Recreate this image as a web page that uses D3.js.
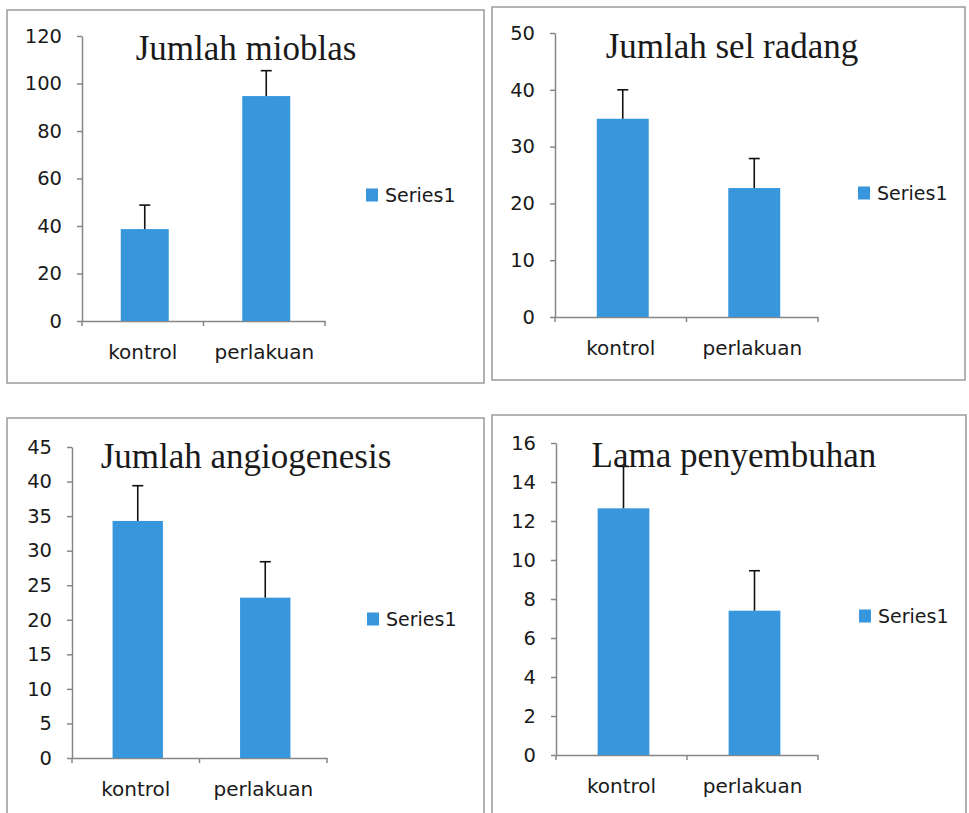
<!DOCTYPE html>
<html lang="en">
<head>
  <meta charset="UTF-8">
  <title>Four bar charts</title>
  <script src="https://d3js.org/d3.v7.min.js"></script>
  <style>
    body { margin: 0; background: #fff; }
    .frame { fill: #fff; stroke: #9a9a9a; stroke-width: 1.5; }
    .bar { fill: #3796dc; }
    .err { stroke: #111; stroke-width: 1.6; fill: none; }
    .axis path, .axis line { stroke: #868686; stroke-width: 1.5; }
    .axis text { font-family: "DejaVu Sans", sans-serif; fill: #1a1a1a; }
    .title { font-family: "Liberation Serif", "Times New Roman", serif; font-size: 35px; fill: #1a1a1a; }
    .legend { font-family: "DejaVu Sans", sans-serif; font-size: 19px; fill: #1a1a1a; }
  </style>
</head>
<body>
  <svg width="969" height="813"></svg>

  <script>
    // Data
    const categories = ["kontrol", "perlakuan"];
    const seriesName = "Series1";
    const titles = ["Jumlah mioblas", "Jumlah sel radang", "Jumlah angiogenesis", "Lama penyembuhan"];

    const mioblasMean = [38.7, 94.7];
    const mioblasErr = [10.1, 10.7];
    const radangMean = [34.9, 22.7];
    const radangErr = [5.1, 5.2];
    const angioMean = [34.3, 23.2];
    const angioErr = [5.1, 5.2];
    const lamaMean = [12.65, 7.4];
    const lamaErr = [2.15, 2.05];

    const mioblasTicks = [0, 20, 40, 60, 80, 100, 120];
    const radangTicks = [0, 10, 20, 30, 40, 50];
    const angioTicks = [0, 5, 10, 15, 20, 25, 30, 35, 40, 45];
    const lamaTicks = [0, 2, 4, 6, 8, 10, 12, 14, 16];

    const panels = [
      { title: titles[0], mean: mioblasMean, err: mioblasErr, ticks: mioblasTicks },
      { title: titles[1], mean: radangMean, err: radangErr, ticks: radangTicks },
      { title: titles[2], mean: angioMean, err: angioErr, ticks: angioTicks },
      { title: titles[3], mean: lamaMean, err: lamaErr, ticks: lamaTicks }
    ];

    // Layout of each panel (frame, plot area, title, legend)
    const layout = [
      { fx: 7, fy: 10, fw: 477, fh: 373, x0: 82, x1: 325, y0: 321, y1: 36, tx: 246, ty: 60, lx: 366, ly: 195 },
      { fx: 492, fy: 7, fw: 473, fh: 373, x0: 555, x1: 818, y0: 317, y1: 33, tx: 732, ty: 58, lx: 858, ly: 193 },
      { fx: 7, fy: 418, fw: 477, fh: 420, x0: 72, x1: 327, y0: 758, y1: 447, tx: 246, ty: 468, lx: 367, ly: 619 },
      { fx: 492, fy: 415, fw: 474, fh: 420, x0: 556, x1: 818, y0: 755, y1: 443, tx: 734, ty: 467, lx: 859, ly: 616 }
    ];

    const svg = d3.select("svg");

    panels.forEach((p, i) => {
      const L = layout[i];
      const g = svg.append("g");

      // Frame
      g.append("rect")
        .attr("class", "frame")
        .attr("x", L.fx).attr("y", L.fy)
        .attr("width", L.fw).attr("height", L.fh);

      // Scales
      const x = d3.scaleBand()
        .domain(categories)
        .range([L.x0, L.x1]);

      const y = d3.scaleLinear()
        .domain([0, d3.max(p.ticks)])
        .range([L.y0, L.y1]);

      // Y axis
      const yAxis = g.append("g")
        .attr("class", "axis")
        .attr("transform", `translate(${L.x0},0)`)
        .call(d3.axisLeft(y).tickValues(p.ticks).tickSize(5).tickPadding(15).tickSizeOuter(0));
      yAxis.selectAll("text").style("font-size", "19.5px");
      // small extension of the y axis below the x axis
      yAxis.append("line")
        .attr("x1", 0).attr("x2", 0)
        .attr("y1", L.y0).attr("y2", L.y0 + 5);

      // X axis (labels at band centers)
      const xAxis = g.append("g")
        .attr("class", "axis")
        .attr("transform", `translate(0,${L.y0})`)
        .call(d3.axisBottom(x).tickSize(0).tickPadding(24).tickSizeOuter(0));
      xAxis.selectAll("text").style("font-size", "20px");

      // Tick marks at category boundaries
      const bounds = categories.map(c => x(c)).concat([x(categories[categories.length - 1]) + x.bandwidth()]);
      xAxis.selectAll(".bound")
        .data(bounds.slice(1))
        .join("line")
        .attr("class", "bound")
        .attr("x1", d => d).attr("x2", d => d)
        .attr("y1", 0).attr("y2", 5);

      // Bars
      const bw = x.bandwidth() * 0.395;
      const rows = categories.map((c, k) => ({ c, v: p.mean[k], e: p.err[k] }));

      g.selectAll(".bar")
        .data(rows)
        .join("rect")
        .attr("class", "bar")
        .attr("x", d => x(d.c) + x.bandwidth() / 2 - bw / 2 + 2)
        .attr("y", d => y(d.v))
        .attr("width", bw)
        .attr("height", d => y(0) - y(d.v));

      // Error bars (plus direction only)
      const cx = d => x(d.c) + x.bandwidth() / 2 + 2;
      g.selectAll(".errv")
        .data(rows)
        .join("line")
        .attr("class", "err errv")
        .attr("x1", cx).attr("x2", cx)
        .attr("y1", d => y(d.v)).attr("y2", d => y(d.v + d.e));
      g.selectAll(".errc")
        .data(rows)
        .join("line")
        .attr("class", "err errc")
        .attr("x1", d => cx(d) - 5.5).attr("x2", d => cx(d) + 5.5)
        .attr("y1", d => y(d.v + d.e)).attr("y2", d => y(d.v + d.e));

      // Title
      g.append("text")
        .attr("class", "title")
        .attr("x", L.tx).attr("y", L.ty)
        .attr("text-anchor", "middle")
        .text(p.title);

      // Legend
      g.append("rect")
        .attr("class", "bar")
        .attr("x", L.lx).attr("y", L.ly - 6.5)
        .attr("width", 12).attr("height", 13);
      g.append("text")
        .attr("class", "legend")
        .attr("x", L.lx + 19).attr("y", L.ly)
        .attr("dy", "0.35em")
        .text(seriesName);
    });
  </script>
</body>
</html>
